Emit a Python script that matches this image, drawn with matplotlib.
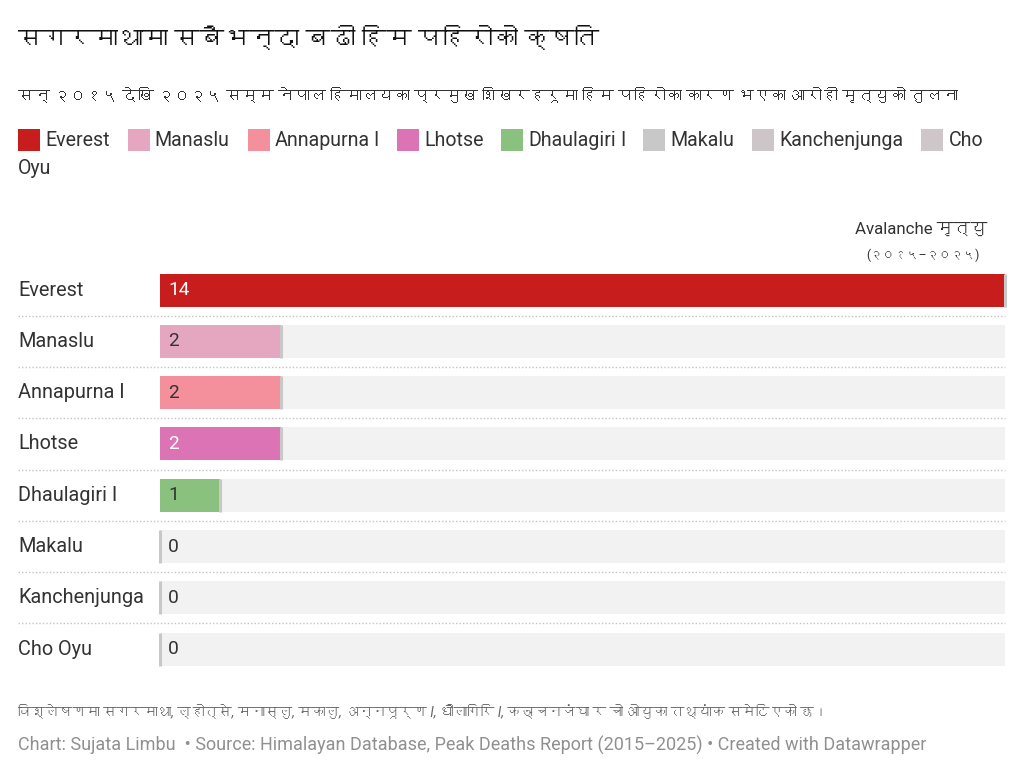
import matplotlib
matplotlib.use('Agg')
import matplotlib.pyplot as plt
import matplotlib.patches as mpatch
from matplotlib import font_manager
from matplotlib.lines import Line2D
from matplotlib.transforms import blended_transform_factory

###############################################################################
# Data
peaks = ['Everest', 'Manaslu', 'Annapurna I', 'Lhotse', 'Dhaulagiri I',
         'Makalu', 'Kanchenjunga', 'Cho Oyu']
deaths = [14, 2, 2, 2, 1, 0, 0, 0]
colors = ['#c71e1d', '#e4a7bf', '#f3909b', '#dc73b4', '#8bc17e',
          '#c8c8c8', '#cdc5c8', '#cec6c9']
value_colors = ['white', '#333333', '#333333', 'white', '#333333',
                '#333333', '#333333', '#333333']

title = 'सगरमाथामा सबैभन्दा बढी हिम पहिरोको क्षति'
subtitle = ('सन् २०१५ देखि २०२५ सम्म नेपाल हिमालयका प्रमुख शिखरहरूमा '
            'हिम पहिरोका कारण भएका आरोही मृत्युको तुलना')
col_header = ['Avalanche मृत्यु', '(२०१५–२०२५)']
note = ('विश्लेषणमा सगरमाथा, ल्होत्से, मनास्लु, मकालु, अन्नपूर्ण I, '
        'धौलागिरि I, कञ्चनजंघा र चो ओयुका तथ्यांक समेटिएको छ।')
credits = ('Chart: Sujata Limbu  • Source: Himalayan Database, Peak Deaths '
           'Report (2015–2025) • Created with Datawrapper')

###############################################################################
# Fonts: look for something that has Devanagari glyphs
deva = None
try:
    from fontTools.ttLib import TTFont
    for f in font_manager.fontManager.ttflist:
        try:
            cmap = TTFont(f.fname, fontNumber=0, lazy=True).getBestCmap()
            if cmap and 0x0938 in cmap:
                deva = f.name
                break
        except Exception:
            pass
except Exception:
    pass

fam = ['Roboto']
if deva:
    fam.append(deva)
fam.append('DejaVu Sans')
plt.rcParams['font.family'] = fam

###############################################################################
W, H = 1024, 775
fig = plt.figure(figsize=(W / 100, H / 100), dpi=100)
fig.patch.set_facecolor('white')
renderer = fig.canvas.get_renderer()


def fx(px):
    return px / W


def fy(py):
    return 1 - py / H


def fit(t, target):
    # no shaping for Devanagari here, so squeeze the text to the width seen
    w = t.get_window_extent(renderer).width
    if w > 0:
        t.set_fontsize(t.get_fontsize() * target / w)
    return t


# Header texts
fit(fig.text(fx(18), fy(40), title, fontsize=21, fontweight='bold',
             color='#111111', va='center', ha='left'), 580)
fit(fig.text(fx(18), fy(96), subtitle, fontsize=13.5, color='#333333',
             va='center', ha='left'), 940)

# Legend, flowing like an html line
x, yrow = 18, 140
line_h = 28
right_lim = 1005
for name, c in zip(peaks, colors):
    words = name.split(' ')
    fig.patches.append(mpatch.Rectangle((fx(x), fy(yrow + 11)), fx(22), 22 / H,
                                        transform=fig.transFigure,
                                        facecolor=c, edgecolor='none'))
    x += 27
    for k, w in enumerate(words):
        t = fig.text(fx(x), fy(yrow), w, fontsize=14.1, color='#333333',
                     va='center', ha='left')
        wpx = t.get_window_extent(renderer).width
        if x + wpx > right_lim:
            x = 18
            yrow += line_h
            t.set_position((fx(x), fy(yrow)))
        x += wpx
        if k < len(words) - 1:
            x += 4
    x += 18

###############################################################################
# Bar area
row0, step = 290, 51.3
top = row0 - step / 2
bottom = row0 + step * (len(peaks) - 0.5)
ax = fig.add_axes([fx(160), fy(bottom), fx(1005) - fx(160), (bottom - top) / H])
ax.set_xlim(0, max(deaths))
ax.set_ylim(len(peaks) - 0.5, -0.5)
ax.axis('off')

ypos = list(range(len(peaks)))
bh = 33 / step
ax.barh(ypos, [max(deaths)] * len(peaks), height=bh, color='#f2f2f2', zorder=1)
ax.barh(ypos, deaths, height=bh, color=colors, zorder=2)

# thin grey cap at the end of each bar
for i, v in enumerate(deaths):
    ax.plot([v, v], [i - bh / 2, i + bh / 2], color='#c8c8c8', lw=2.2,
            zorder=3, solid_capstyle='butt', clip_on=False)
    ax.annotate(str(v), (0, i), xytext=(8 * 0.72, 0), textcoords='offset points',
                va='center', ha='left', fontsize=13.8, color=value_colors[i],
                zorder=4)

trans = blended_transform_factory(fig.transFigure, ax.transData)
for i, name in enumerate(peaks):
    fig.text(fx(18), i, name, transform=trans, fontsize=14.3, color='#333333',
             va='center', ha='left')
for i in range(len(peaks) - 1):
    fig.lines.append(Line2D([fx(18), fx(1005)], [i + 0.5, i + 0.5],
                            transform=trans, color='#c4c4c4', lw=1,
                            linestyle=(0, (1, 1.5))))

# column header
fit(fig.text(fx(987), fy(229), col_header[0], fontsize=14, color='#333333',
             ha='right', va='center'), 134)
fit(fig.text(fx(923), fy(255), col_header[1], fontsize=14, color='#333333',
             ha='center', va='center'), 114)

###############################################################################
# Footer
fit(fig.text(fx(18), fy(712), note, fontsize=12.5, style='italic',
             color='#666666', va='center', ha='left'), 812)
fig.text(fx(18), fy(745), credits, fontsize=13, color='#909090',
         va='center', ha='left')

fig.savefig('out.png', dpi=100, facecolor='white')
